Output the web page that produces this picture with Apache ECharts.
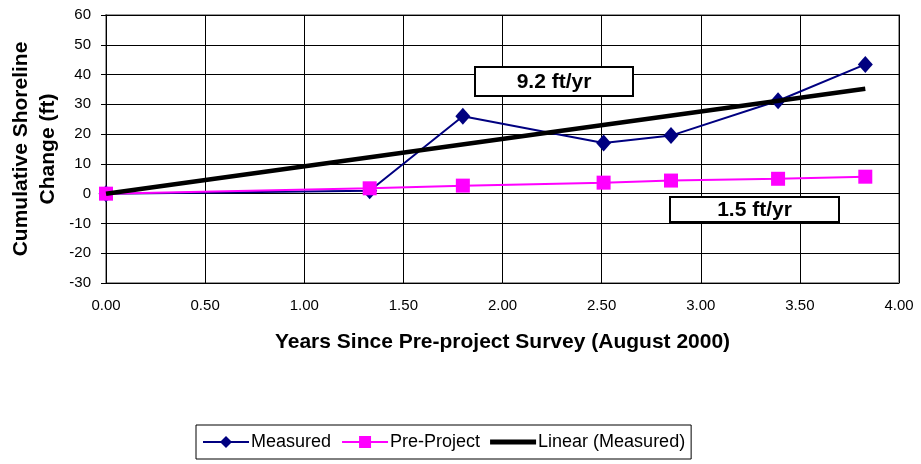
<!DOCTYPE html>
<html><head><meta charset="utf-8">
<script src="https://cdn.jsdelivr.net/npm/echarts@6/dist/echarts.min.js"></script>
<style>html,body{margin:0;padding:0;background:#fff}#c{width:921px;height:464px}</style>
</head><body><div id="c"></div>
<script>
var years = [0.00, 1.33, 1.80, 2.51, 2.85, 3.39, 3.83];
var measured = [0, 1.0, 26, 17, 19.5, 31.2, 43.4];
var preProject = [0, 1.8, 2.7, 3.7, 4.4, 5.0, 5.7];
var linearYears = [0.00, 3.83];
var linearValues = [0, 35.2];
var seriesNames = ['Measured', 'Pre-Project', 'Linear (Measured)'];
var rateLabels = ['9.2 ft/yr', '1.5 ft/yr'];

function pairs(xs, ys){ return xs.map(function(x,i){ return [x, ys[i]]; }); }

var chart = echarts.init(document.getElementById('c'));
var font = 'Liberation Sans, Arial, sans-serif';
function labelBox(left, top, w, h, text){
  return {type: 'group', left: left, top: top, z: 10, children: [
    {type: 'rect', shape: {x: 0, y: 0, width: w, height: h}, style: {fill: '#fff', stroke: '#000', lineWidth: 2}, z: 10},
    {type: 'text', x: w / 2, y: h / 2 + 1, z: 11, style: {text: text, align: 'center', verticalAlign: 'middle', textAlign: 'center', textVerticalAlign: 'middle', font: 'bold 21px ' + font, fill: '#000'}}
  ]};
}
chart.setOption({
  animation: false,
  backgroundColor: '#fff',
  textStyle: {fontFamily: font},
  grid: {left: 106, right: 22, top: 15, bottom: 181, show: true, borderColor: '#999', borderWidth: 2, containLabel: false, outerBoundsMode: 'none'},
  xAxis: {
    type: 'value', min: 0, max: 4, interval: 0.5,
    name: 'Years Since Pre-project Survey (August 2000)', nameLocation: 'middle', nameGap: 49,
    nameMoveOverlap: false,
    nameTextStyle: {fontSize: 21, fontWeight: 'bold', color: '#000', fontFamily: font},
    axisLine: {show: true, lineStyle: {color: '#000', width: 1}},
    axisTick: {show: true, length: 5, inside: false, lineStyle: {color: '#000'}},
    axisLabel: {fontSize: 15, color: '#000', margin: 15, formatter: function(v){ return v.toFixed(2); }},
    splitLine: {show: true, lineStyle: {color: '#000', width: 1}}
  },
  yAxis: {
    type: 'value', min: -30, max: 60, interval: 10,
    name: 'Cumulative Shoreline\nChange (ft)', nameLocation: 'middle', nameGap: 44, nameRotate: 90,
    nameMoveOverlap: false,
    nameTextStyle: {fontSize: 21, fontWeight: 'bold', color: '#000', lineHeight: 27, fontFamily: font},
    axisLine: {show: true, lineStyle: {color: '#000', width: 1}},
    axisTick: {show: true, length: 5, lineStyle: {color: '#000'}},
    axisLabel: {fontSize: 15, color: '#000', margin: 15},
    splitLine: {show: true, lineStyle: {color: '#000', width: 1}}
  },
  legend: {
    left: 196, top: 425,
    padding: [8, 6, 8, 6],
    borderColor: '#000', borderWidth: 1,
    itemWidth: 46, itemHeight: 15, itemGap: 10,
    textStyle: {fontSize: 18, color: '#000', fontFamily: font, padding: [0, 0, 0, -3]},
    data: [
      {name: seriesNames[0]},
      {name: seriesNames[1]},
      {name: seriesNames[2], icon: 'path://M0,0H46V5H0Z'}
    ]
  },
  series: [
    {
      name: seriesNames[0], type: 'line', data: pairs(years, measured),
      symbol: 'diamond', symbolSize: [15, 17], lineStyle: {color: '#000080', width: 2},
      itemStyle: {color: '#000080'}, z: 3
    },
    {
      name: seriesNames[1], type: 'line', data: pairs(years, preProject),
      symbol: 'rect', symbolSize: 14, lineStyle: {color: '#ff00ff', width: 2},
      itemStyle: {color: '#ff00ff'}, z: 4
    },
    {
      name: seriesNames[2], type: 'line', data: pairs(linearYears, linearValues),
      symbol: 'none', lineStyle: {color: '#000', width: 4.5}, itemStyle: {color: '#000'}, z: 5
    }
  ],
  graphic: [
    labelBox(474, 66, 158, 29, rateLabels[0]),
    labelBox(669, 196, 169, 25, rateLabels[1])
  ]
});
</script></body></html>
